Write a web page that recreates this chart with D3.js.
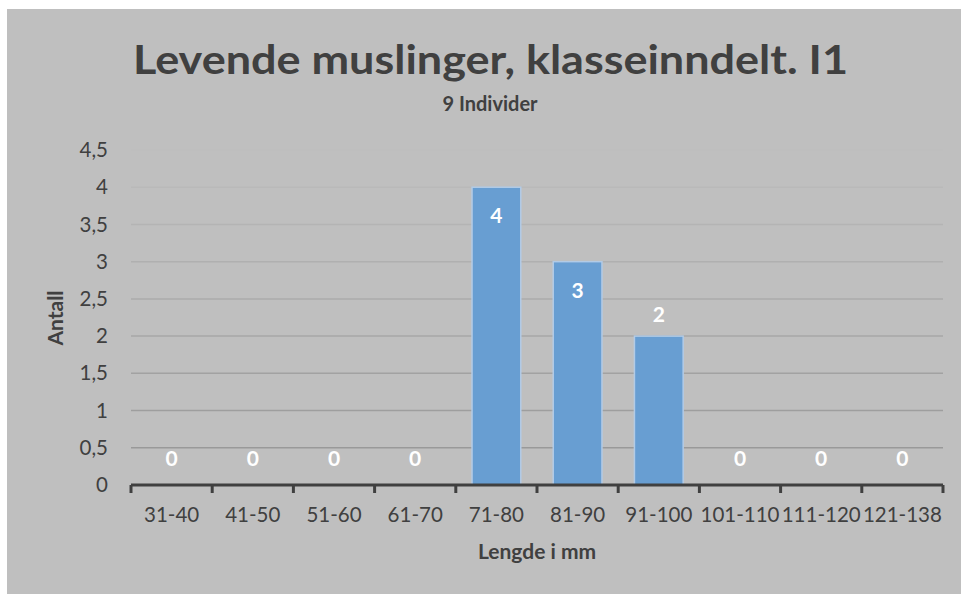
<!DOCTYPE html>
<html>
<head>
<meta charset="utf-8">
<script src="https://cdn.jsdelivr.net/npm/d3@7"></script>
<style>
  html, body { margin: 0; background: #fff; overflow: hidden; }
  svg { display: block; }
  text { font-family: Lato, "Open Sans", sans-serif; }
</style>
</head>
<body>
<div class="chart"></div>
<script>
var svgWidth = 961;
var svgHeight = 594;

// data
var categories = ["31-40", "41-50", "51-60", "61-70", "71-80", "81-90", "91-100", "101-110", "111-120", "121-138"];
var counts = [0, 0, 0, 0, 4, 3, 2, 0, 0, 0];
var yTicks = [0, 0.5, 1, 1.5, 2, 2.5, 3, 3.5, 4, 4.5];
var titleText = "Levende muslinger, klasseinndelt. I1";
var subtitleText = "9 Individer";
var xTitle = "Lengde i mm";
var yTitle = "Antall";

var margin = { top: 150, right: 18, bottom: 109, left: 131 };
var width = svgWidth - margin.left - margin.right;
var height = svgHeight - margin.top - margin.bottom;

var svg = d3.select(".chart")
  .append("svg")
  .attr("width", svgWidth)
  .attr("height", svgHeight);

// chart background
svg.append("rect")
  .attr("x", 7)
  .attr("y", 9)
  .attr("width", svgWidth - 7)
  .attr("height", svgHeight - 9)
  .attr("fill", "#bfbfbf");

var chartGroup = svg.append("g")
  .attr("transform", `translate(${margin.left}, ${margin.top})`);

var xScale = d3.scaleBand()
  .domain(categories)
  .range([0, width])
  .paddingInner(0.4)
  .paddingOuter(0.2);

var yScale = d3.scaleLinear()
  .domain([0, 4.5])
  .range([height, 0]);

// gridlines, lighter towards the top
var gridColor = d3.scaleLinear().domain([0.5, 4]).range(["#999999", "#b9b9b9"]);
chartGroup.append("g")
  .selectAll("line")
  .data(yTicks.filter(d => d > 0))
  .enter().append("line")
  .attr("x1", 0)
  .attr("x2", width)
  .attr("y1", d => yScale(d))
  .attr("y2", d => yScale(d))
  .attr("stroke", d => gridColor(d))
  .attr("stroke-width", 1.5);

// bars
chartGroup.selectAll(".bar")
  .data(counts.map((v, i) => ({ cat: categories[i], v: v })))
  .enter().append("rect")
  .attr("class", "bar")
  .attr("x", d => xScale(d.cat))
  .attr("y", d => yScale(d.v))
  .attr("width", xScale.bandwidth())
  .attr("height", d => height - yScale(d.v))
  .attr("fill", "#689ed2")
  .attr("stroke", "#b2cbe6")
  .attr("stroke-width", 1.5)
  .style("display", d => d.v > 0 ? null : "none");

// data labels
chartGroup.selectAll(".lbl")
  .data(counts.map((v, i) => ({ cat: categories[i], v: v })))
  .enter().append("text")
  .attr("class", "lbl")
  .attr("x", d => xScale(d.cat) + xScale.bandwidth() / 2)
  .attr("y", d => d.v >= 3 ? yScale(d.v) + 36 : yScale(d.v) - (d.v > 0 ? 14 : 19))
  .attr("text-anchor", "middle")
  .attr("fill", "#ffffff")
  .attr("font-weight", "bold")
  .attr("font-size", 21)
  .text(d => d.v);

// x axis
var bottomAxis = d3.axisBottom(xScale).tickSize(0).tickPadding(0);
var xAxis = chartGroup.append("g")
  .attr("transform", `translate(0, ${height})`)
  .call(bottomAxis);
xAxis.select(".domain").remove();
xAxis.selectAll("text")
  .attr("y", 37)
  .attr("dy", 0)
  .attr("font-size", 20.5)
  .attr("font-family", "Lato, sans-serif")
  .attr("fill", "#404040");

xAxis.append("line")
  .attr("x1", 0)
  .attr("x2", width)
  .attr("stroke", "#404040")
  .attr("stroke-width", 3);

// category boundary ticks
xAxis.selectAll(".bound")
  .data(d3.range(categories.length + 1))
  .enter().append("line")
  .attr("class", "bound")
  .attr("x1", i => i * xScale.step())
  .attr("x2", i => i * xScale.step())
  .attr("y1", 0)
  .attr("y2", 8)
  .attr("stroke", "#404040")
  .attr("stroke-width", 3);

// y axis labels
var leftAxis = d3.axisLeft(yScale)
  .tickValues(yTicks)
  .tickSize(0)
  .tickPadding(23)
  .tickFormat(d => String(d).replace(".", ","));
var yAxis = chartGroup.append("g").call(leftAxis);
yAxis.select(".domain").remove();
yAxis.selectAll("text")
  .attr("font-size", 20.5)
  .attr("font-family", "Lato, sans-serif")
  .attr("fill", "#404040");

// titles
svg.append("text")
  .attr("x", 490.5)
  .attr("y", 74)
  .attr("text-anchor", "middle")
  .attr("font-size", 41)
  .attr("font-weight", "bold")
  .attr("fill", "#404040")
  .attr("textLength", 715)
  .attr("lengthAdjust", "spacingAndGlyphs")
  .text(titleText);

svg.append("text")
  .attr("x", 490)
  .attr("y", 111)
  .attr("text-anchor", "middle")
  .attr("font-size", 20)
  .attr("font-weight", "bold")
  .attr("fill", "#404040")
  .text(subtitleText);

svg.append("text")
  .attr("x", 537)
  .attr("y", 559)
  .attr("text-anchor", "middle")
  .attr("font-size", 21)
  .attr("font-weight", "bold")
  .attr("fill", "#404040")
  .text(xTitle);

svg.append("text")
  .attr("transform", "translate(63, 318) rotate(-90)")
  .attr("text-anchor", "middle")
  .attr("font-size", 21)
  .attr("font-weight", "bold")
  .attr("fill", "#404040")
  .text(yTitle);
</script>
</body>
</html>
